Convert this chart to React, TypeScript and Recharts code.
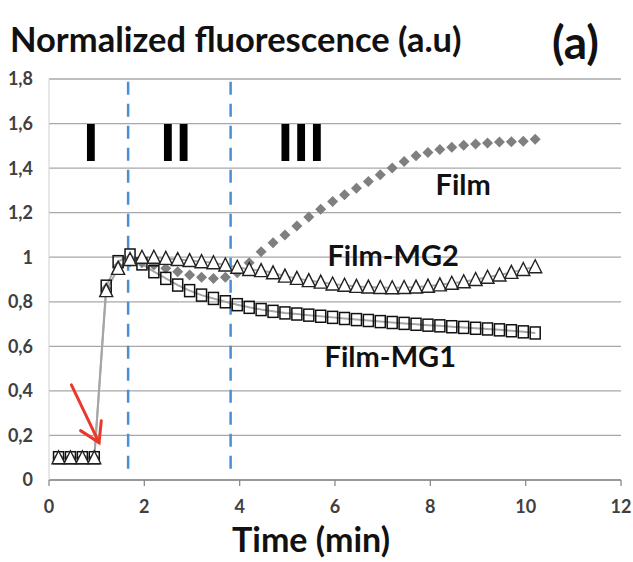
import React from 'react';
import {
  LineChart,
  Line,
  XAxis,
  YAxis,
  CartesianGrid,
  ReferenceLine,
  ReferenceDot,
} from 'recharts';

// time points (min)
const times = [
  0.2, 0.45, 0.7, 0.95, 1.2, 1.45, 1.7, 1.95, 2.2, 2.45, 2.7, 2.95, 3.2, 3.45,
  3.7, 3.95, 4.2, 4.45, 4.7, 4.95, 5.2, 5.45, 5.7, 5.95, 6.2, 6.45, 6.7, 6.95,
  7.2, 7.45, 7.7, 7.95, 8.2, 8.45, 8.7, 8.95, 9.2, 9.45, 9.7, 9.95, 10.2,
];

const film = [
  0.1, 0.1, 0.1, 0.1, 0.86, 0.96, 0.98, 0.975, 0.965, 0.95, 0.935, 0.92, 0.91,
  0.905, 0.91, 0.93, 0.975, 1.025, 1.065, 1.1, 1.14, 1.18, 1.215, 1.25, 1.28,
  1.31, 1.34, 1.37, 1.4, 1.43, 1.455, 1.47, 1.484, 1.494, 1.503, 1.508, 1.513,
  1.517, 1.518, 1.521, 1.53,
];

const filmMG2 = [
  0.1, 0.1, 0.1, 0.1, 0.85, 0.95, 0.99, 1.0, 1.0, 0.995, 0.99, 0.985, 0.98,
  0.975, 0.965, 0.955, 0.945, 0.94, 0.93, 0.915, 0.905, 0.895, 0.888, 0.88,
  0.874, 0.869, 0.866, 0.864, 0.863, 0.864, 0.866, 0.87, 0.876, 0.883, 0.89,
  0.9, 0.91, 0.92, 0.932, 0.945, 0.957,
];

const filmMG1 = [
  0.1, 0.1, 0.1, 0.1, 0.87, 0.98, 1.01, 0.97, 0.935, 0.905, 0.875, 0.85, 0.83,
  0.815, 0.8, 0.787, 0.775, 0.765, 0.757, 0.75, 0.745, 0.74, 0.735, 0.73,
  0.725, 0.72, 0.716, 0.711, 0.707, 0.703, 0.699, 0.695, 0.692, 0.688, 0.685,
  0.681, 0.678, 0.674, 0.67, 0.665, 0.66,
];

const xTicks = [0, 2, 4, 6, 8, 10, 12];
const yTicks = [0, 0.2, 0.4, 0.6, 0.8, 1, 1.2, 1.4, 1.6, 1.8];
const phaseBounds = [1.66, 3.81];
const phaseLabels = [
  { text: 'I', x: 0.88, y: 1.517 },
  { text: 'II', x: 2.66, y: 1.517 },
  { text: 'III', x: 5.29, y: 1.517 },
];
const seriesLabels = [
  { text: 'Film', x: 8.69, y: 1.324 },
  { text: 'Film-MG2', x: 7.22, y: 1.005 },
  { text: 'Film-MG1', x: 7.16, y: 0.552 },
];
const arrowFrom = { x: 0.47, y: 0.427 };
const arrowTo = { x: 1.05, y: 0.168 };

const data = times.map((t, i) => ({
  t,
  film: film[i],
  mg2: filmMG2[i],
  mg1: filmMG1[i],
}));

const FONT = 'Lato, "Open Sans", sans-serif';

const Diamond = (props: any) => {
  const { cx, cy, index } = props;
  if (cx == null || cy == null) return <g key={`d-${index}`} />;
  return (
    <polygon
      key={`d-${index}`}
      points={`${cx},${cy - 5.5} ${cx + 5.5},${cy} ${cx},${cy + 5.5} ${cx - 5.5},${cy}`}
      fill="#7f7f7f"
    />
  );
};

const Square = (props: any) => {
  const { cx, cy, index } = props;
  if (cx == null || cy == null) return <g key={`s-${index}`} />;
  return (
    <rect
      key={`s-${index}`}
      x={cx - 5}
      y={cy - 6}
      width={10}
      height={12}
      fill="none"
      stroke="#111"
      strokeWidth={1.5}
    />
  );
};

const Triangle = (props: any) => {
  const { cx, cy, index } = props;
  if (cx == null || cy == null) return <g key={`t-${index}`} />;
  return (
    <polygon
      key={`t-${index}`}
      points={`${cx},${cy - 7} ${cx + 6.5},${cy + 6} ${cx - 6.5},${cy + 6}`}
      fill="#fff"
      stroke="#222"
      strokeWidth={1.4}
    />
  );
};

const Arrow = (props: any) => {
  const { x1, y1, x2, y2 } = props;
  const ang = Math.atan2(y1 - y2, x1 - x2);
  const len = 22;
  const a1 = ang + 0.55;
  const a2 = ang - 0.55;
  return (
    <g stroke="#e8392c" strokeWidth={3} strokeLinecap="round" fill="none">
      <line x1={x1} y1={y1} x2={x2} y2={y2} />
      <polyline
        points={`${x2 + len * Math.cos(a1)},${y2 + len * Math.sin(a1)} ${x2},${y2} ${x2 + len * Math.cos(a2)},${y2 + len * Math.sin(a2)}`}
      />
    </g>
  );
};

const fmtY = (v: number) => String(Math.round(v * 10) / 10).replace('.', ',');

export default function App() {
  return (
    <div
      style={{
        position: 'absolute',
        left: 0,
        top: 0,
        width: 633,
        height: 562,
        background: '#fff',
        fontFamily: FONT,
        overflow: 'hidden',
      }}
    >
      <div
        style={{
          position: 'absolute',
          left: 10,
          top: 22,
          fontSize: 34.5,
          lineHeight: 1,
          fontWeight: 700,
          color: '#111',
          whiteSpace: 'nowrap',
        }}
      >
        Normalized fluorescence (a.u)
      </div>
      <div
        style={{
          position: 'absolute',
          left: 552,
          top: 19,
          fontSize: 46,
          lineHeight: 1,
          fontWeight: 700,
          color: '#111',
        }}
      >
        (a)
      </div>
      <div
        style={{
          position: 'absolute',
          left: 232,
          top: 522,
          fontSize: 34,
          lineHeight: 1,
          fontWeight: 700,
          color: '#111',
          whiteSpace: 'nowrap',
        }}
      >
        Time (min)
      </div>

      <div style={{ position: 'absolute', left: 0, top: 0 }}>
        <LineChart
          width={633}
          height={562}
          data={data}
          margin={{ top: 79, right: 12, bottom: 52, left: 0 }}
        >
          <CartesianGrid horizontal vertical={false} stroke="#a8a8a8" strokeWidth={1.3} />
          <XAxis
            dataKey="t"
            type="number"
            domain={[0, 12]}
            ticks={xTicks}
            allowDataOverflow
            height={30}
            tickSize={6}
            tickMargin={14}
            axisLine={{ stroke: '#8c8c8c', strokeWidth: 1.3 }}
            tickLine={{ stroke: '#8c8c8c', strokeWidth: 1.3 }}
            tick={{ fill: '#404040', fontSize: 18, fontWeight: 700, fontFamily: FONT }}
          />
          <YAxis
            type="number"
            domain={[0, 1.8]}
            ticks={yTicks}
            width={49}
            tickLine={false}
            tickMargin={10}
            axisLine={{ stroke: '#cfcfcf', strokeWidth: 1 }}
            tickFormatter={fmtY}
            tick={{ fill: '#404040', fontSize: 18, fontWeight: 700, fontFamily: FONT }}
          />

          <Line
            dataKey="film"
            stroke="none"
            dot={<Diamond />}
            activeDot={false}
            isAnimationActive={false}
          />
          <Line
            dataKey="mg1"
            stroke="#a6a6a6"
            strokeWidth={2}
            dot={<Square />}
            activeDot={false}
            isAnimationActive={false}
          />
          <Line
            dataKey="mg2"
            stroke="#a6a6a6"
            strokeWidth={2}
            dot={<Triangle />}
            activeDot={false}
            isAnimationActive={false}
          />

          {phaseBounds.map((x) => (
            <ReferenceLine
              key={`pb-${x}`}
              segment={[
                { x, y: 0.05 },
                { x, y: 1.8 },
              ]}
              stroke="#4a8fd6"
              strokeWidth={2.5}
              strokeDasharray="13 9"
            />
          ))}

          <ReferenceLine segment={[arrowFrom, arrowTo]} shape={<Arrow />} />

          {phaseLabels.map((p) => (
            <ReferenceDot
              key={p.text}
              x={p.x}
              y={p.y}
              r={0}
              fill="none"
              stroke="none"
              label={{
                value: p.text,
                position: 'center',
                fill: '#000',
                fontSize: 52,
                fontWeight: 900,
                fontFamily: FONT,
              }}
            />
          ))}
          {seriesLabels.map((p) => (
            <ReferenceDot
              key={p.text}
              x={p.x}
              y={p.y}
              r={0}
              fill="none"
              stroke="none"
              label={{
                value: p.text,
                position: 'center',
                fill: '#111',
                fontSize: 29,
                fontWeight: 700,
                fontFamily: FONT,
              }}
            />
          ))}
        </LineChart>
      </div>
    </div>
  );
}
